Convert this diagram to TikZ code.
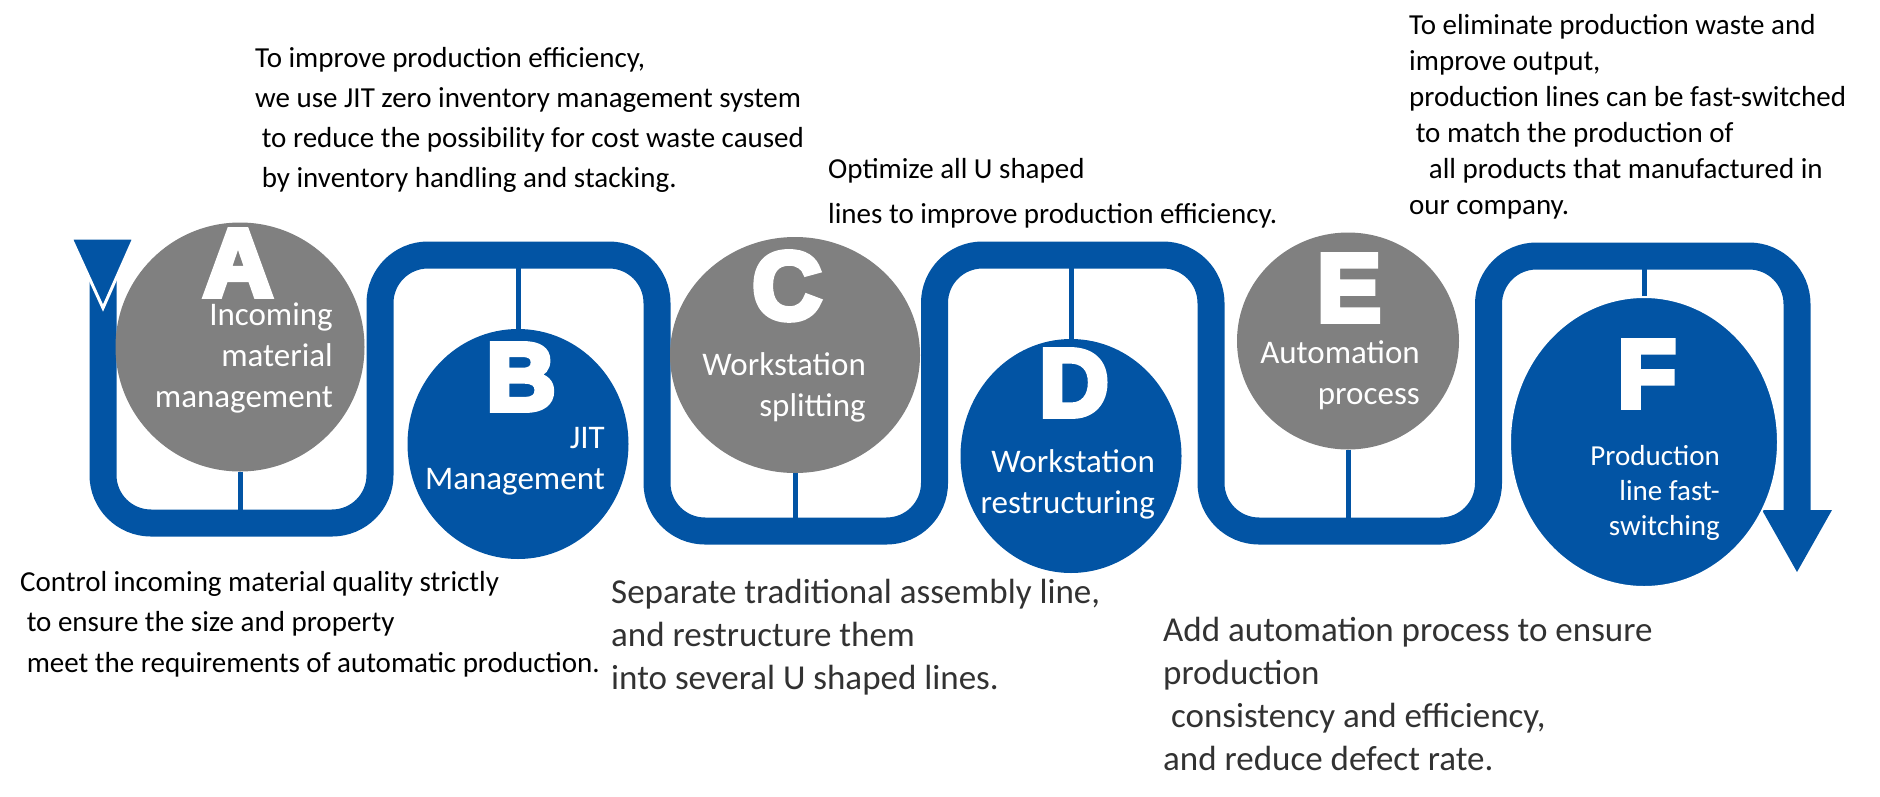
\documentclass[tikz,border=0pt]{standalone}
\usepackage{fontspec}
\setmainfont{Carlito}
\newfontfamily\letterfont[FakeBold=6]{Liberation Sans Bold}
\usetikzlibrary{shapes.geometric}
\definecolor{pipeblue}{RGB}{2,84,164}
\definecolor{circgray}{RGB}{128,128,128}
\definecolor{bigtext}{RGB}{50,50,50}
\begin{document}
\begin{tikzpicture}[x=1pt,y=-1pt,
  pipe/.style={draw=pipeblue,line width=27pt,rounded corners=48pt},
  link/.style={draw=pipeblue,line width=5pt},
  bubble/.style={ellipse,inner sep=0pt,draw=none},
  gbubble/.style={bubble,fill=circgray},
  bbubble/.style={bubble,fill=pipeblue},
  letter/.style={anchor=base,text=white,inner sep=0pt,font=\letterfont\fontsize{96}{96}\selectfont},
  lbl/.style={anchor=base east,text=white,inner sep=0pt,font=\fontsize{33}{41}\selectfont},
  slbl/.style={anchor=base east,text=white,inner sep=0pt,font=\fontsize{29}{35}\selectfont},
  note/.style={anchor=base west,inner sep=0pt,text=black,font=\fontsize{29}{40.3}\selectfont},
  bignote/.style={anchor=base west,inner sep=0pt,text=bigtext,font=\fontsize{35}{43}\selectfont},
  tip/.style={fill=pipeblue,draw=white,line width=3pt,line join=miter}
]
\useasboundingbox (0,0) rectangle (1880,796);

% main pipe
\draw[pipe] (103,250) -- (103,523) -- (380,523) -- (380,255) -- (657,255) -- (657,531)
  -- (934.5,531) -- (934.5,255) -- (1211,255) -- (1211,531) -- (1488.5,531)
  -- (1488.5,256) -- (1797,256) -- (1797,512);

% start and end arrow heads
\fill[tip] (71,238) -- (134,238) -- (103,308) -- cycle;
\fill[pipeblue] (1762,510) -- (1832,510) -- (1797,572) -- cycle;

% pipe attachment points
\coordinate (pa) at (240,523);
\coordinate (pb) at (518,255);
\coordinate (pc) at (795,531);
\coordinate (pd) at (1071,255);
\coordinate (pe) at (1348,531);
\coordinate (pf) at (1644,256);

% bubbles
\node[gbubble,minimum width=249pt,minimum height=249pt] (A) at (240,347) {};
\node[bbubble,minimum width=221pt,minimum height=230pt] (B) at (518,444) {};
\node[gbubble,minimum width=250pt,minimum height=236pt] (C) at (795,355) {};
\node[bbubble,minimum width=221pt,minimum height=234pt] (D) at (1071,456) {};
\node[gbubble,minimum width=222pt,minimum height=217pt] (E) at (1348,341) {};
\node[bbubble,draw=white,line width=2pt,minimum width=268pt,minimum height=290pt] (F) at (1644,442) {};

% connectors
\draw[link] (A) -- (pa);
\draw[link] (B) -- (pb);
\draw[link] (C) -- (pc);
\draw[link] (D) -- (pd);
\draw[link] (E) -- (pe);
\draw[link] (F) -- (pf);

% letters
\node[letter] (la) at (238,296) {A};
\node[letter] (lb) at (521,410) {B};
\node[letter] (lc) at (787,319) {C};
\node[letter] (ld) at (1074,416) {D};
\node[letter] (le) at (1349,321) {E};
\node[letter] (lf) at (1647,407) {F};

% bubble labels
\node[lbl] (ta) at (333,325) {\begin{tabular}[t]{@{}r@{}}Incoming\\material\\management\end{tabular}};
\node[lbl] (tb) at (605,448) {\begin{tabular}[t]{@{}r@{}}JIT\\Management\end{tabular}};
\node[lbl] (tc) at (866,375) {\begin{tabular}[t]{@{}r@{}}Workstation\\splitting\end{tabular}};
\node[lbl] (td) at (1155,472) {\begin{tabular}[t]{@{}r@{}}Workstation\\restructuring\end{tabular}};
\node[lbl] (te) at (1420,363) {\begin{tabular}[t]{@{}r@{}}Automation\\process\end{tabular}};
\node[slbl] (tf) at (1720,465) {\begin{tabular}[t]{@{}r@{}}Production\\line fast-\\switching\end{tabular}};

% descriptions
\node[note] (n1) at (255,67) {\begin{tabular}[t]{@{}l@{}}To improve production efficiency,\\we use JIT zero inventory management system\\\ to reduce the possibility for cost waste caused\\\ by inventory handling and stacking.\end{tabular}};
\node[note,font=\fontsize{29}{45}\selectfont] (n2) at (828,178) {\begin{tabular}[t]{@{}l@{}}Optimize all U shaped\\lines to improve production efficiency.\end{tabular}};
\node[note,font=\fontsize{29}{36}\selectfont] (n3) at (1409,34) {\begin{tabular}[t]{@{}l@{}}To eliminate production waste and\\improve output,\\production lines can be fast-switched\\\ to match the production of\\\ \ \ all products that manufactured in\\our company.\end{tabular}};
\node[note,font=\fontsize{29}{40.5}\selectfont] (n4) at (20,591) {\begin{tabular}[t]{@{}l@{}}Control incoming material quality strictly\\\ to ensure the size and property\\\ meet the requirements of automatic production.\end{tabular}};
\node[bignote] (n5) at (611,603) {\begin{tabular}[t]{@{}l@{}}Separate traditional assembly line,\\and restructure them\\into several U shaped lines.\end{tabular}};
\node[bignote] (n6) at (1163,641) {\begin{tabular}[t]{@{}l@{}}Add automation process to ensure\\production\\\ consistency and efficiency,\\and reduce defect rate.\end{tabular}};
\end{tikzpicture}
\end{document}
